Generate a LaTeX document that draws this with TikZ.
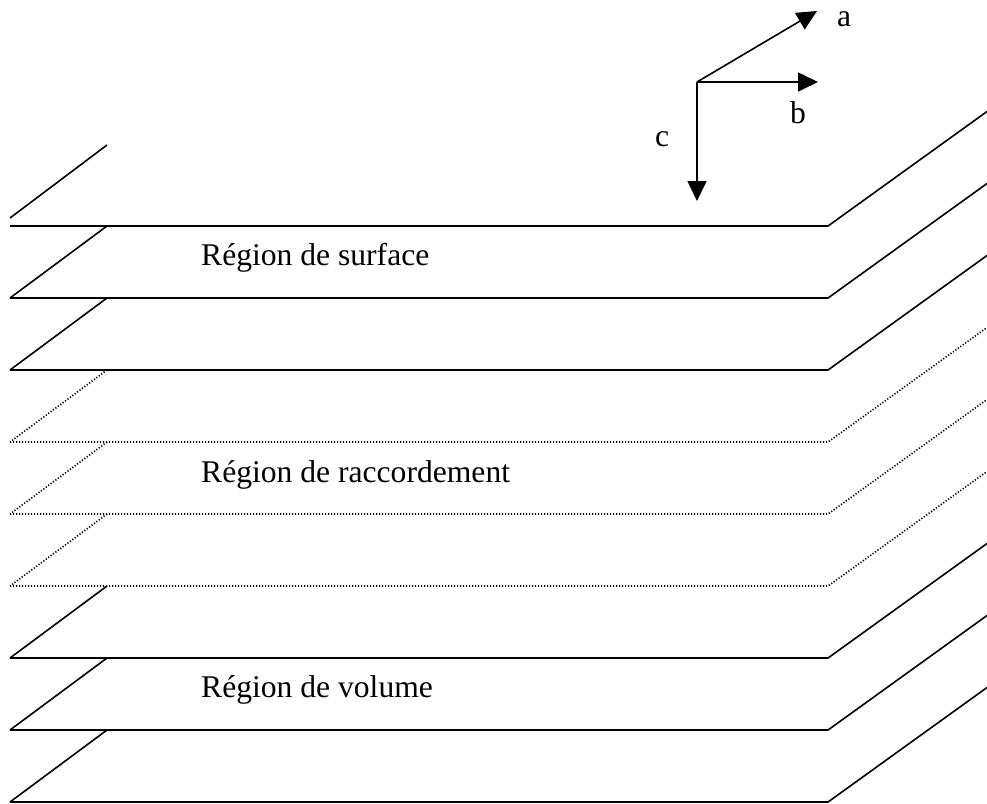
\documentclass[tikz,border=0pt]{standalone}
\usepackage{fontspec}
\setmainfont{Liberation Serif}
\usetikzlibrary{arrows.meta}
\begin{document}
\begin{tikzpicture}[x=1pt,y=-1pt,
  solidline/.style={line width=1.6pt, line cap=butt, line join=miter},
  dotline/.style={line width=1.6pt, dash pattern=on 1.2pt off 1.8pt},
  axis/.style={line width=1.6pt, -{Triangle[length=20pt,width=19pt]}},
  lbl/.style={font=\fontsize{31.6}{36}\selectfont, anchor=base west, inner sep=0pt}]
\useasboundingbox (0,0) rectangle (987,803);
\clip (0,0) rectangle (987,803);
% top partial left edge
\draw[solidline] (10,218) -- (107,145);
% planes
\foreach \k/\st in {0/solidline,1/solidline,2/solidline,3/dotline,4/dotline,5/dotline,6/solidline,7/solidline,8/solidline}{
  \pgfmathsetmacro{\yy}{226+72*\k}
  \pgfmathsetmacro{\yr}{\yy-114.5}
  \draw[\st] (10,\yy) -- (828,\yy) -- (987,\yr);
}
\foreach \k/\st in {0/solidline,1/solidline,2/dotline,3/dotline,4/dotline,5/solidline,6/solidline,7/solidline}{
  \pgfmathsetmacro{\yy}{226+72*\k}
  \pgfmathsetmacro{\yl}{\yy+72}
  \draw[\st] (107,\yy) -- (10,\yl);
}
% labels
\node[lbl] (surf) at (201,265) {Région de surface};
\node[lbl] (racc) at (201,482) {Région de raccordement};
\node[lbl] (vol) at (201,697) {Région de volume};
% axes
\coordinate (o) at (697,82);
\coordinate (ea) at (817,11);
\coordinate (eb) at (818,82);
\coordinate (ec) at (697,201);
\draw[axis] (o) -- (ea);
\draw[axis] (o) -- (eb);
\draw[axis] (o) -- (ec);
\node[lbl] (la) at (837,26) {a};
\node[lbl] (lb) at (790,123) {b};
\node[lbl] (lc) at (655,146) {c};
\end{tikzpicture}
\end{document}
